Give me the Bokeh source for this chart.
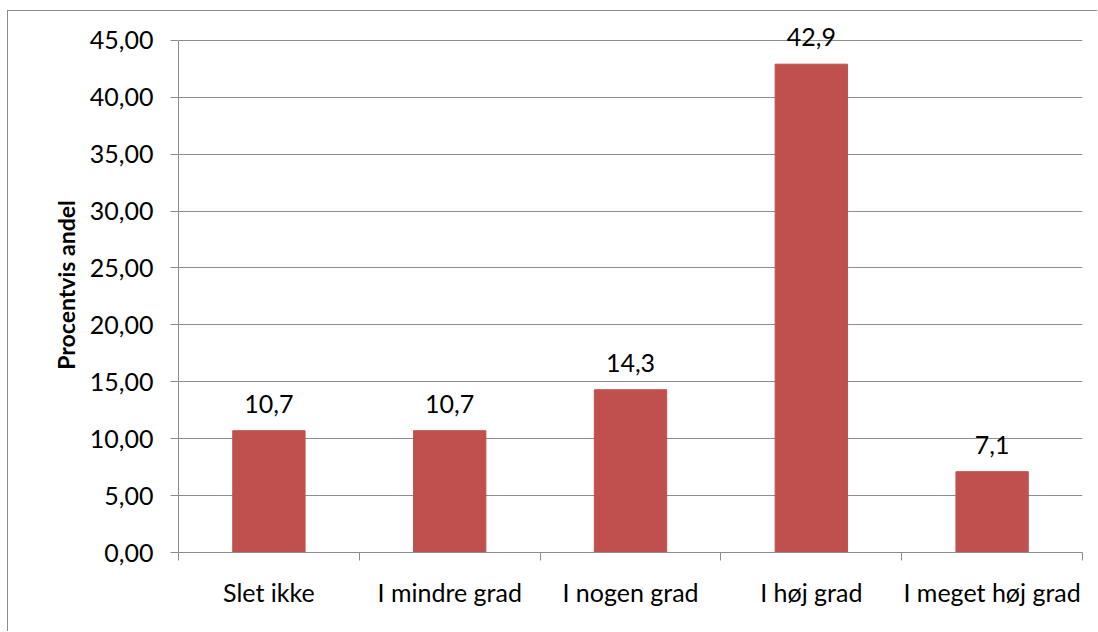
from bokeh.plotting import figure
from bokeh.models import FixedTicker, ColumnDataSource, Range1d, LabelSet
from bokeh.embed import file_html
from bokeh.resources import INLINE
from bokeh.core.properties import value

categories = ["Slet ikke", "I mindre grad", "I nogen grad", "I høj grad", "I meget høj grad"]
values = [10.7, 10.7, 14.3, 42.9, 7.1]
y_ticks = [0, 5, 10, 15, 20, 25, 30, 35, 40, 45]

FONT = "Lato"
GRID = "#8c8c8c"
FS = "25px"

xs = [i + 0.5 for i in range(len(categories))]
labels = [f"{v:.1f}".replace(".", ",") for v in values]
src = ColumnDataSource(dict(x=xs, top=values, label=labels))

p = figure(width=1090, height=621, output_backend="svg", toolbar_location=None,
           x_range=Range1d(0, len(categories)), y_range=Range1d(0, 47),
           min_border_left=170, min_border_right=16, min_border_top=6, min_border_bottom=80)
p.styles = {"border-top": "1px solid #8c8c8c", "border-left": "1px solid #8c8c8c",
            "margin-left": "7px", "margin-top": "10px"}
p.outline_line_color = None
p.background_fill_color = "white"

p.vbar(x="x", top="top", width=0.4, source=src, color="#C0504D")
p.add_layout(LabelSet(x="x", y="top", text="label", source=src, text_align="center",
                      text_baseline="alphabetic", y_offset=18, text_font=value(FONT),
                      text_font_size=value(FS), text_color="black"))

p.xgrid.visible = False
p.ygrid.ticker = FixedTicker(ticks=y_ticks)
p.ygrid.grid_line_color = GRID
p.ygrid.grid_line_width = 1

p.yaxis.ticker = FixedTicker(ticks=y_ticks)
p.yaxis.bounds = (0, 45)
p.yaxis.major_label_overrides = {t: f"{t:.2f}".replace(".", ",") for t in y_ticks}
p.yaxis.axis_line_color = GRID
p.yaxis.major_tick_line_color = GRID
p.yaxis.major_tick_out = 8
p.yaxis.major_tick_in = 0
p.yaxis.minor_tick_line_color = None
p.yaxis.major_label_text_font = FONT
p.yaxis.major_label_text_font_size = FS
p.yaxis.major_label_text_color = "black"
p.yaxis.major_label_standoff = 17
p.yaxis.axis_label = "Procentvis andel"
p.yaxis.axis_label_text_font = FONT
p.yaxis.axis_label_text_font_style = "bold"
p.yaxis.axis_label_text_font_size = "23px"
p.yaxis.axis_label_text_color = "black"
p.yaxis.axis_label_standoff = 7

p.xaxis.ticker = FixedTicker(ticks=xs, minor_ticks=list(range(len(categories) + 1)))
p.xaxis.major_label_overrides = {x: c for x, c in zip(xs, categories)}
p.xaxis.axis_line_color = GRID
p.xaxis.major_tick_line_color = None
p.xaxis.minor_tick_line_color = GRID
p.xaxis.minor_tick_out = 8
p.xaxis.minor_tick_in = 0
p.xaxis.major_tick_out = 8
p.xaxis.major_label_text_font = FONT
p.xaxis.major_label_text_font_size = FS
p.xaxis.major_label_text_color = "black"
p.xaxis.major_label_standoff = 16

open("out.html", "w").write(file_html(p, INLINE))
